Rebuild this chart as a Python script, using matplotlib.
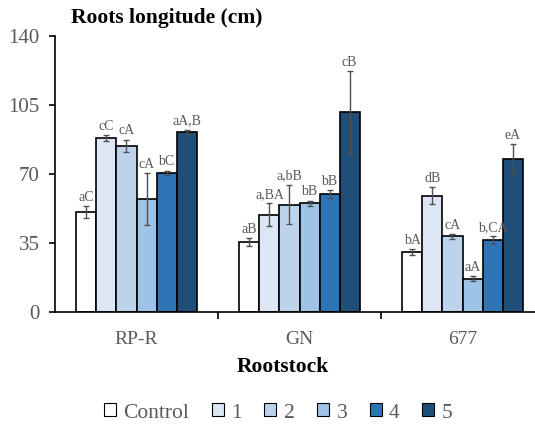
import numpy as np
import matplotlib.pyplot as plt

plt.rcParams['font.family'] = ['Liberation Serif', 'DejaVu Serif']

rootstocks = ['RP-R', 'GN', '677']
treatments = ['Control', '1', '2', '3', '4', '5']
colors = ['#ffffff', '#dce6f4', '#bdd3ec', '#9dc3e6', '#2e75b6', '#1f4e79']

# means per treatment (rows) for each rootstock (columns)
means = [
    [50.7, 35.5, 30.3],
    [88.1, 49.4, 59.0],
    [84.4, 54.5, 38.4],
    [57.2, 55.1, 16.9],
    [70.7, 59.9, 36.5],
    [91.5, 101.3, 77.6],
]
errors = [
    [3.0, 2.0, 1.5],
    [1.5, 5.7, 4.3],
    [3.0, 10.0, 1.2],
    [13.2, 1.3, 1.2],
    [1.0, 2.0, 2.0],
    [1.0, 21.0, 7.6],
]
letters = [
    ['aC', 'aB', 'bA'],
    ['cC', 'a,BA', 'dB'],
    ['cA', 'a,bB', 'cA'],
    ['cA', 'bB', 'aA'],
    ['bC', 'bB', 'b,CA'],
    ['aA,B', 'cB', 'eA'],
]

fig = plt.figure(figsize=(5.35, 4.28), dpi=100)
ax = fig.add_axes([55 / 535, 1 - 312 / 428, 489 / 535, 276 / 428])

gray = '#595959'
x = np.arange(len(rootstocks))
w = 0.1227
for i, t in enumerate(treatments):
    pos = x - 2.5 * w + i * w
    ax.bar(pos, means[i], w, color=colors[i], edgecolor='black', linewidth=1.2,
           label=t, zorder=2)
    ax.errorbar(pos, means[i], yerr=errors[i], fmt='none', ecolor='#505050',
                elinewidth=1, capsize=2.5, capthick=1, zorder=3)
    for j in range(len(rootstocks)):
        ax.text(pos[j], means[i][j] + errors[i][j] + 1.2, letters[i][j],
                ha='center', va='bottom', fontsize=10, color=gray)

ax.set_xlim(-0.5, 2.5)
ax.set_ylim(0, 140)
ax.set_yticks([0, 35, 70, 105, 140])
ax.set_xticks(x)
ax.set_xticklabels(rootstocks)
ax.set_xticks([0.5, 1.5], minor=True)
ax.tick_params(axis='x', which='major', length=0, labelsize=14, labelcolor=gray, pad=14)
ax.tick_params(axis='x', which='minor', length=5, width=1.2, direction='out')
ax.tick_params(axis='y', length=4, width=1.2, direction='out', labelsize=15,
               labelcolor=gray, pad=7)
for s in ['top', 'right']:
    ax.spines[s].set_visible(False)
for s in ['left', 'bottom']:
    ax.spines[s].set_linewidth(1.2)

fig.text(283 / 535, 1 - 367 / 428, 'Rootstock', fontsize=15.5, fontweight='bold',
         ha='center', va='center')
fig.text(71 / 535, 1 - 18 / 428, 'Roots longitude (cm)', fontsize=15.5,
         fontweight='bold', ha='left', va='center')

leg = fig.legend(loc='center', bbox_to_anchor=(0.52, 1 - 413 / 428), ncol=6,
                 frameon=False, fontsize=15.5, handlelength=0.55, handleheight=0.55,
                 handletextpad=0.35, columnspacing=1.05, labelcolor=gray)
for h in leg.legend_handles:
    h.set_linewidth(0.8)

fig.savefig('out.png', dpi=100)
